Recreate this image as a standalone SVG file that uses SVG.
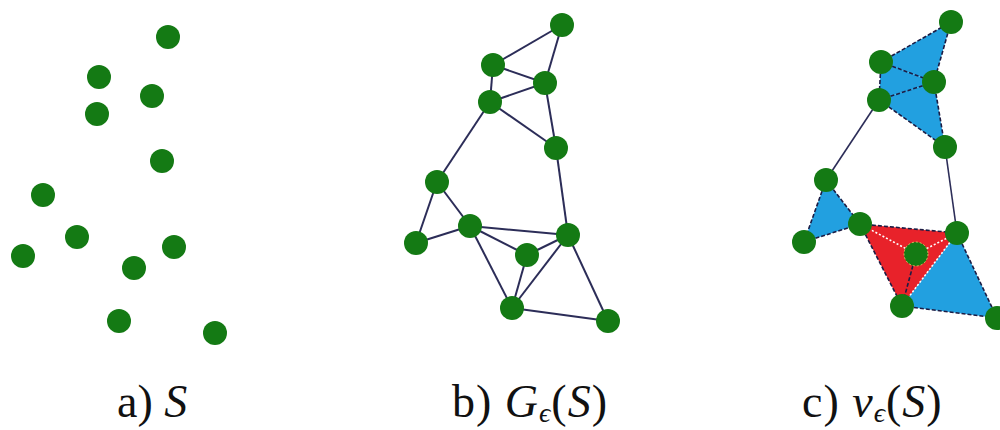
<svg xmlns="http://www.w3.org/2000/svg" width="1000" height="430" viewBox="0 0 1000 430">
<style>
.n{fill:#147a14}
.e{stroke:#2c2d58;stroke-width:2;fill:none}
.d{stroke:#1c1c44;stroke-width:1.6;stroke-dasharray:4 2;fill:none}
.w{stroke:#ffffff;stroke-width:1.6;stroke-dasharray:2 2;fill:none}
.blue{fill:#22a0e0}
.red{fill:#e8222a}
.it{font-style:italic}
</style>
<rect width="1000" height="430" fill="#ffffff"/>
<g id="faces">
<polygon class="blue" points="951,22 881,62 934,82"/>
<polygon class="blue" points="881,62 934,82 879,100"/>
<polygon class="blue" points="879,100 934,82 945,147"/>
<polygon class="blue" points="826,180 804,242 860,224"/>
<polygon class="blue" points="957,233 902,306 997,318"/>
<polygon class="red" points="860,224 957,233 902,306"/>
</g>
<g id="connectors">
<line class="e" x1="562" y1="25" x2="493" y2="65"/>
<line class="e" x1="562" y1="25" x2="545" y2="83"/>
<line class="e" x1="493" y1="65" x2="545" y2="83"/>
<line class="e" x1="493" y1="65" x2="490" y2="102"/>
<line class="e" x1="490" y1="102" x2="545" y2="83"/>
<line class="e" x1="490" y1="102" x2="556" y2="148"/>
<line class="e" x1="545" y1="83" x2="556" y2="148"/>
<line class="e" x1="490" y1="102" x2="437" y2="182"/>
<line class="e" x1="556" y1="148" x2="568" y2="235"/>
<line class="e" x1="437" y1="182" x2="416" y2="243"/>
<line class="e" x1="437" y1="182" x2="470" y2="226"/>
<line class="e" x1="416" y1="243" x2="470" y2="226"/>
<line class="e" x1="470" y1="226" x2="568" y2="235"/>
<line class="e" x1="470" y1="226" x2="527" y2="255"/>
<line class="e" x1="470" y1="226" x2="512" y2="308"/>
<line class="e" x1="527" y1="255" x2="568" y2="235"/>
<line class="e" x1="527" y1="255" x2="512" y2="308"/>
<line class="e" x1="568" y1="235" x2="512" y2="308"/>
<line class="e" x1="568" y1="235" x2="608" y2="321"/>
<line class="e" x1="512" y1="308" x2="608" y2="321"/>
<line class="e" x1="879" y1="100" x2="826" y2="180" style="stroke-width:1.6"/>
<line class="e" x1="945" y1="147" x2="957" y2="233" style="stroke-width:1.6"/>
<line class="d" x1="881" y1="62" x2="951" y2="22"/>
<line class="d" x1="951" y1="22" x2="934" y2="82"/>
<line class="d" x1="881" y1="62" x2="934" y2="82"/>
<line class="d" x1="879" y1="100" x2="934" y2="82"/>
<line class="d" x1="934" y1="82" x2="945" y2="147"/>
<line class="d" x1="879" y1="100" x2="945" y2="147"/>
<line class="d" x1="881" y1="62" x2="879" y2="100"/>
<line class="d" x1="826" y1="180" x2="804" y2="242"/>
<line class="d" x1="804" y1="242" x2="860" y2="224"/>
<line class="d" x1="826" y1="180" x2="860" y2="224"/>
<line class="d" x1="860" y1="224" x2="957" y2="233"/>
<line class="d" x1="860" y1="224" x2="902" y2="306"/>
<line class="d" x1="902" y1="306" x2="997" y2="318"/>
<line class="d" x1="957" y1="233" x2="997" y2="318"/>
<line class="w" x1="957" y1="233" x2="902" y2="306"/>
<line class="w" x1="916" y1="254" x2="860" y2="224"/>
<line class="w" x1="916" y1="254" x2="957" y2="233"/>
<line class="d" x1="916" y1="254" x2="902" y2="306"/>
</g>
<g id="a1"><circle class="n" cx="168" cy="37" r="12"/></g>
<g id="a2"><circle class="n" cx="99" cy="77" r="12"/></g>
<g id="a3"><circle class="n" cx="152" cy="96" r="12"/></g>
<g id="a4"><circle class="n" cx="97" cy="114" r="12"/></g>
<g id="a5"><circle class="n" cx="162" cy="161" r="12"/></g>
<g id="a6"><circle class="n" cx="43" cy="195" r="12"/></g>
<g id="a7"><circle class="n" cx="77" cy="237" r="12"/></g>
<g id="a8"><circle class="n" cx="23" cy="256" r="12"/></g>
<g id="a9"><circle class="n" cx="174" cy="247" r="12"/></g>
<g id="a10"><circle class="n" cx="134" cy="268" r="12"/></g>
<g id="a11"><circle class="n" cx="119" cy="321" r="12"/></g>
<g id="a12"><circle class="n" cx="215" cy="333" r="12"/></g>
<g id="b1"><circle class="n" cx="562" cy="25" r="12"/></g>
<g id="b2"><circle class="n" cx="493" cy="65" r="12"/></g>
<g id="b3"><circle class="n" cx="545" cy="83" r="12"/></g>
<g id="b4"><circle class="n" cx="490" cy="102" r="12"/></g>
<g id="b5"><circle class="n" cx="556" cy="148" r="12"/></g>
<g id="b6"><circle class="n" cx="437" cy="182" r="12"/></g>
<g id="b7"><circle class="n" cx="470" cy="226" r="12"/></g>
<g id="b8"><circle class="n" cx="416" cy="243" r="12"/></g>
<g id="b9"><circle class="n" cx="568" cy="235" r="12"/></g>
<g id="b10"><circle class="n" cx="527" cy="255" r="12"/></g>
<g id="b11"><circle class="n" cx="512" cy="308" r="12"/></g>
<g id="b12"><circle class="n" cx="608" cy="321" r="12"/></g>
<g id="c1"><circle class="n" cx="951" cy="22" r="12"/></g>
<g id="c2"><circle class="n" cx="881" cy="62" r="12"/></g>
<g id="c3"><circle class="n" cx="934" cy="82" r="12"/></g>
<g id="c4"><circle class="n" cx="879" cy="100" r="12"/></g>
<g id="c5"><circle class="n" cx="945" cy="147" r="12"/></g>
<g id="c6"><circle class="n" cx="826" cy="180" r="12"/></g>
<g id="c7"><circle class="n" cx="860" cy="224" r="12"/></g>
<g id="c8"><circle class="n" cx="804" cy="242" r="12"/></g>
<g id="c9"><circle class="n" cx="957" cy="233" r="12"/></g>
<g id="c10"><circle class="n" cx="916" cy="254" r="12" stroke="#d8c060" stroke-width="1" stroke-dasharray="2 2"/></g>
<g id="c11"><circle class="n" cx="902" cy="306" r="12"/></g>
<g id="c12"><circle class="n" cx="997" cy="318" r="12"/></g>
<g font-family="Liberation Serif, DejaVu Serif, serif" font-size="46" fill="#111">
<text x="117" y="417">a) <tspan class="it">S</tspan></text>
<text x="452" y="417" letter-spacing="1">b) <tspan class="it">G</tspan><tspan class="it" font-size="28" dy="5">ϵ</tspan><tspan dy="-5">(</tspan><tspan class="it">S</tspan>)</text>
<text x="802" y="417" letter-spacing="1">c) <tspan class="it">ν</tspan><tspan class="it" font-size="28" dy="5">ϵ</tspan><tspan dy="-5">(</tspan><tspan class="it">S</tspan>)</text>
</g>
</svg>
